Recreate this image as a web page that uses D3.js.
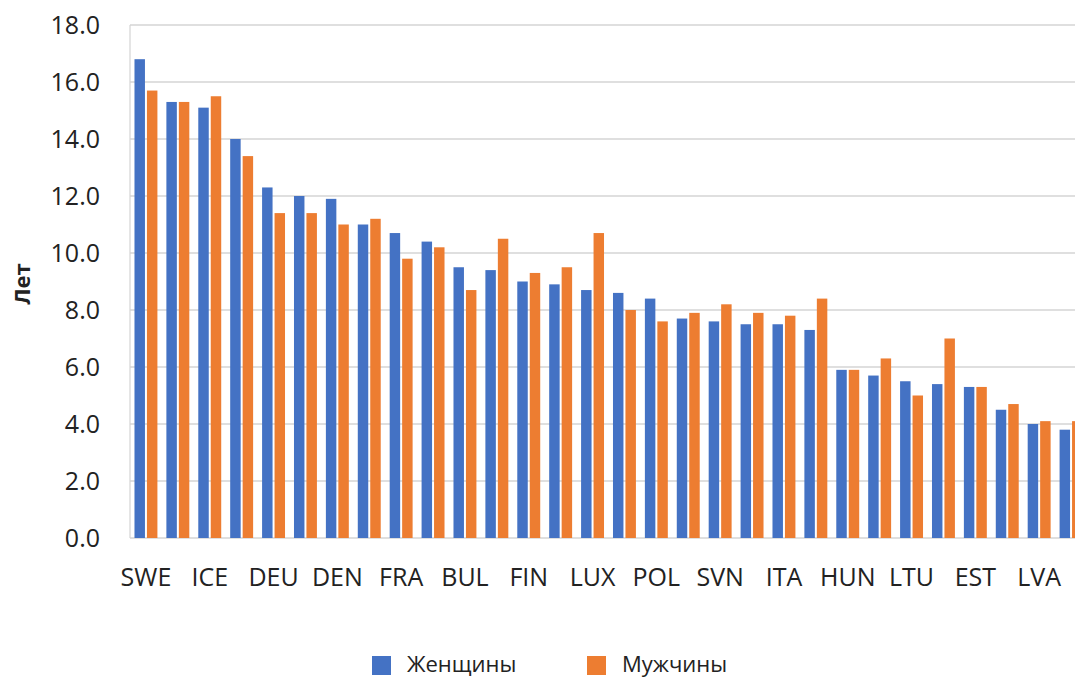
<!DOCTYPE html>
<html>
<head>
<meta charset="utf-8">
<script src="https://cdn.jsdelivr.net/npm/d3@7"></script>
<style>
  html, body { margin: 0; padding: 0; background: #fff; }
  svg { display: block; overflow: hidden; }
  text { font-family: "Open Sans", "Noto Sans", sans-serif; fill: #222; }
</style>
</head>
<body>
<svg id="chart" width="1075" height="678"></svg>
<script>
// Categories (only every other label is shown in the original)
const categories = ["SWE","NOR","ICE","MLT","DEU","IRL","DEN","BEL","FRA","AUT","BUL","CYP","FIN","ESP","LUX","CZE","POL","GRC","SVN","NLD","ITA","HRV","HUN","PRT","LTU","ROU","EST","SVK","LVA","SRB"];
const women = [16.8,15.3,15.1,14.0,12.3,12.0,11.9,11.0,10.7,10.4,9.5,9.4,9.0,8.9,8.7,8.6,8.4,7.7,7.6,7.5,7.5,7.3,5.9,5.7,5.5,5.4,5.3,4.5,4.0,3.8];
const men   = [15.7,15.3,15.5,13.4,11.4,11.4,11.0,11.2,9.8,10.2,8.7,10.5,9.3,9.5,10.7,8.0,7.6,7.9,8.2,7.9,7.8,8.4,5.9,6.3,5.0,7.0,5.3,4.7,4.1,4.1];
const seriesNames = ["Женщины","Мужчины"];
const seriesColors = ["#4472C4","#ED7D31"];
const yTicks = [0,2,4,6,8,10,12,14,16,18];
const yTitle = "Лет";

(function () {
const svg = d3.select("#chart");
const mLeft = 130, mRight = 1087, mTop = 25, mBottom = 538;

const x = d3.scaleBand().domain(categories).range([mLeft, mRight]).padding(0);
const x1 = d3.scaleBand().domain(seriesNames).range([0, x.bandwidth()]).paddingInner(0.16).paddingOuter(0.36);
const y = d3.scaleLinear().domain([0, 18]).range([mBottom, mTop]);

// gridlines
svg.append("g").selectAll("line").data(yTicks).join("line")
  .attr("x1", mLeft).attr("x2", 1075)
  .attr("y1", d => y(d)).attr("y2", d => y(d))
  .attr("stroke", "#d4d4d4").attr("stroke-width", 1.5);

// left axis line
svg.append("line").attr("x1", mLeft).attr("x2", mLeft).attr("y1", mTop).attr("y2", mBottom)
  .attr("stroke", "#d4d4d4").attr("stroke-width", 1.2);

// y tick labels
const yAxis = d3.axisLeft(y).tickValues(yTicks).tickFormat(d3.format(".1f")).tickSize(0).tickPadding(0);
const yg = svg.append("g").attr("transform", `translate(${100},0)`).call(yAxis);
yg.select(".domain").remove();
yg.selectAll("text").attr("font-size", 25).attr("font-family", "'Open Sans', sans-serif").attr("fill", "#222");

// bars
const data = categories.map((c, i) => ({cat: c, vals: [women[i], men[i]]}));
const groups = svg.append("g").selectAll("g").data(data).join("g")
  .attr("transform", d => `translate(${x(d.cat)},0)`);
groups.selectAll("rect").data(d => d.vals.map((v, j) => ({name: seriesNames[j], v, j}))).join("rect")
  .attr("x", d => x1(d.name))
  .attr("width", x1.bandwidth())
  .attr("y", d => y(d.v))
  .attr("height", d => y(0) - y(d.v))
  .attr("fill", d => seriesColors[d.j]);

// x axis labels (every other)
const xAxis = d3.axisBottom(x).tickValues(categories.filter((c, i) => i % 2 === 0)).tickSize(0).tickPadding(0);
const xg = svg.append("g").attr("transform", `translate(0,${mBottom})`).call(xAxis);
xg.select(".domain").remove();
xg.selectAll("text").attr("font-size", 25).attr("dy", 48).attr("font-family", "'Open Sans', sans-serif").attr("fill", "#222");

// y title
svg.append("text")
  .attr("transform", "translate(30,284) rotate(-90)")
  .attr("text-anchor", "middle")
  .attr("font-size", 22).attr("font-weight", "bold")
  .text(yTitle);

// legend
const legendX = [372, 587];
const lg = svg.append("g").selectAll("g").data(seriesNames).join("g")
  .attr("transform", (d, i) => `translate(${legendX[i]},656)`);
lg.append("rect").attr("width", 19).attr("height", 19).attr("fill", (d, i) => seriesColors[i]);
lg.append("text").attr("x", 35).attr("y", 16).attr("font-size", 22).text(d => d);
})();
</script>
</body>
</html>
